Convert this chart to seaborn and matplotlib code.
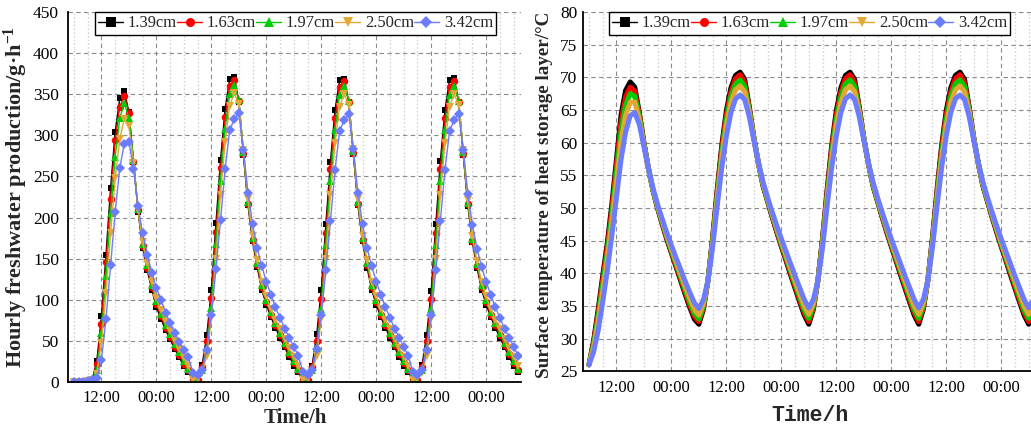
import matplotlib
matplotlib.use("Agg")
import matplotlib.pyplot as plt
import seaborn as sns
import pandas as pd
from matplotlib.lines import Line2D
from matplotlib.ticker import MultipleLocator, FixedLocator, FixedFormatter

sns.set_style("white")
plt.rcParams["font.family"] = ["Liberation Serif", "DejaVu Serif"]
plt.rcParams["mathtext.fontset"] = "custom"
plt.rcParams["mathtext.rm"] = "Liberation Serif"
plt.rcParams["mathtext.bf"] = "Liberation Serif:bold"

# ---------------- data ----------------
hours = list(range(6, 104))
labels = ["1.39cm", "1.63cm", "1.97cm", "2.50cm", "3.42cm"]
xtick_pos = [12, 24, 36, 48, 60, 72, 84, 96]
xtick_labels = ["12:00", "00:00", "12:00", "00:00", "12:00", "00:00", "12:00", "00:00"]

prod_139 = [0, 0, 0, 1, 3, 26, 80, 155, 236, 304, 345, 354, 328, 268, 207, 163, 136, 112, 91, 77, 63, 52, 40, 30, 19, 12,
            2, 3, 21, 57, 112, 193, 270, 332, 368, 371, 341, 276, 215, 171, 140, 112, 94, 79, 66, 54, 42, 31, 20, 12,
            2, 3, 20, 58, 112, 192, 268, 331, 367, 369, 340, 277, 215, 171, 139, 112, 94, 79, 66, 54, 42, 31, 20, 12,
            2, 3, 21, 57, 111, 192, 269, 331, 367, 370, 340, 276, 214, 170, 139, 112, 94, 79, 66, 54, 42, 31, 20, 12]
prod_163 = [0, 0, 0, 1, 2, 22, 71, 146, 223, 294, 335, 348, 327, 268, 209, 166, 139, 115, 95, 80, 66, 55, 43, 33, 22, 14,
            2, 3, 18, 50, 102, 182, 260, 322, 360, 367, 342, 277, 217, 173, 142, 115, 97, 82, 69, 57, 45, 34, 23, 14,
            2, 3, 18, 50, 101, 181, 259, 321, 359, 366, 341, 278, 217, 173, 142, 115, 97, 82, 69, 57, 45, 34, 23, 14,
            2, 3, 18, 50, 101, 181, 259, 321, 359, 366, 341, 277, 216, 172, 141, 115, 97, 82, 69, 57, 45, 34, 23, 14]
prod_197 = [0, 0, 0, 1, 2, 15, 59, 129, 205, 274, 321, 339, 321, 270, 210, 168, 142, 118, 98, 83, 69, 58, 46, 36, 25, 16,
            2, 3, 14, 40, 90, 168, 245, 308, 350, 361, 343, 280, 219, 175, 145, 118, 100, 85, 72, 60, 48, 37, 26, 16,
            2, 3, 14, 41, 89, 167, 244, 307, 349, 360, 342, 281, 219, 175, 145, 118, 100, 85, 72, 60, 48, 37, 26, 16,
            2, 3, 14, 40, 89, 167, 244, 307, 349, 360, 342, 280, 218, 174, 144, 118, 100, 85, 72, 60, 48, 37, 26, 16]
prod_250 = [0, 0, 0, 1, 2, 10, 47, 108, 181, 248, 296, 320, 311, 266, 209, 170, 145, 122, 102, 87, 73, 62, 50, 40, 29, 20,
            3, 4, 11, 32, 78, 150, 228, 292, 336, 351, 338, 282, 222, 178, 148, 122, 104, 89, 76, 64, 52, 41, 30, 20,
            3, 4, 11, 32, 77, 149, 227, 291, 335, 350, 337, 283, 222, 178, 148, 122, 104, 89, 76, 64, 52, 41, 30, 20,
            3, 4, 11, 32, 77, 149, 227, 291, 335, 350, 337, 282, 221, 177, 147, 122, 104, 89, 76, 64, 52, 41, 30, 20]
prod_342 = [0, 0, 0, 1, 2, 5, 27, 77, 142, 207, 260, 290, 292, 259, 214, 181, 155, 133, 114, 100, 84, 72, 60, 49, 39, 30,
            11, 8, 15, 39, 82, 137, 197, 259, 306, 320, 327, 282, 230, 192, 163, 141, 122, 106, 91, 78, 65, 54, 43, 32,
            12, 8, 15, 40, 82, 136, 196, 258, 305, 319, 326, 283, 230, 192, 163, 141, 122, 106, 91, 78, 65, 54, 43, 32,
            12, 8, 15, 39, 81, 136, 196, 258, 305, 319, 326, 282, 229, 191, 162, 140, 122, 106, 91, 78, 65, 54, 43, 32]

temp_139 = [26.0, 29.6, 34.4, 39.6, 44.6, 50.6, 57.4, 64.2, 68.0, 69.3, 68.5, 64.6, 60.0, 56.0, 52.6, 49.9, 47.5, 45.2, 43.1, 41.0, 38.9, 36.8, 34.8, 33.0, 32.2,
            34.5, 39.0, 45.5, 52.8, 59.6, 64.9, 68.4, 70.3, 70.8, 69.7, 65.5, 60.8, 56.8, 53.4, 51.0, 48.6, 46.3, 44.1, 42.0, 39.8, 37.7, 35.6, 33.6, 32.2,
            34.5, 39.0, 45.4, 52.8, 59.6, 64.9, 68.4, 70.3, 70.8, 69.7, 65.5, 60.8, 56.8, 53.4, 51.0, 48.6, 46.3, 44.1, 42.0, 39.8, 37.7, 35.6, 33.6, 32.2,
            34.5, 39.0, 45.5, 52.8, 59.6, 64.9, 68.4, 70.3, 70.8, 69.7, 65.5, 60.8, 56.8, 53.4, 51.0, 48.6, 46.3, 44.1, 42.0, 39.8, 37.7, 35.6, 33.6, 32.2,
            34.5]
temp_163 = [26.0, 29.3, 33.9, 39.0, 44.0, 49.9, 56.5, 63.2, 67.0, 68.5, 67.9, 64.3, 59.9, 56.0, 52.7, 50.0, 47.6, 45.4, 43.3, 41.2, 39.2, 37.1, 35.1, 33.4, 32.6,
            34.7, 39.0, 45.3, 52.4, 59.1, 64.3, 67.8, 69.8, 70.4, 69.2, 65.3, 60.7, 56.8, 53.5, 51.1, 48.7, 46.5, 44.3, 42.2, 40.1, 38.0, 35.9, 34.0, 32.6,
            34.7, 39.0, 45.3, 52.4, 59.1, 64.3, 67.8, 69.8, 70.4, 69.2, 65.3, 60.7, 56.8, 53.5, 51.1, 48.7, 46.5, 44.3, 42.2, 40.1, 38.0, 35.9, 34.0, 32.6,
            34.7, 39.0, 45.3, 52.4, 59.1, 64.3, 67.8, 69.8, 70.4, 69.2, 65.3, 60.7, 56.8, 53.5, 51.1, 48.7, 46.5, 44.3, 42.2, 40.1, 38.0, 35.9, 34.0, 32.6,
            34.7]
temp_197 = [26.0, 29.0, 33.3, 38.2, 43.1, 48.9, 55.4, 61.8, 65.8, 67.5, 67.1, 64.0, 59.8, 56.0, 52.7, 50.1, 47.8, 45.6, 43.5, 41.5, 39.5, 37.5, 35.6, 33.9, 33.0,
            35.0, 39.0, 45.0, 51.9, 58.4, 63.5, 67.1, 69.0, 69.6, 68.6, 65.0, 60.7, 56.9, 53.6, 51.2, 48.9, 46.7, 44.5, 42.5, 40.4, 38.4, 36.4, 34.4, 33.1,
            35.0, 39.0, 45.0, 51.9, 58.4, 63.5, 67.1, 69.0, 69.6, 68.6, 65.0, 60.7, 56.9, 53.6, 51.2, 48.9, 46.7, 44.5, 42.5, 40.4, 38.4, 36.4, 34.4, 33.1,
            35.0, 39.0, 45.0, 51.9, 58.4, 63.5, 67.1, 69.0, 69.6, 68.6, 65.0, 60.7, 56.9, 53.6, 51.2, 48.9, 46.7, 44.5, 42.5, 40.4, 38.4, 36.4, 34.4, 33.1,
            35.0]
temp_250 = [26.0, 28.6, 32.5, 37.2, 42.1, 47.7, 53.9, 60.1, 64.2, 66.2, 66.2, 63.5, 59.6, 56.0, 52.8, 50.3, 48.0, 45.8, 43.8, 41.8, 39.9, 38.0, 36.2, 34.5, 33.6,
            35.4, 38.9, 44.6, 51.3, 57.6, 62.6, 66.1, 68.1, 68.7, 67.8, 64.6, 60.6, 56.9, 53.8, 51.4, 49.1, 46.9, 44.8, 42.8, 40.8, 38.8, 36.9, 35.0, 33.7,
            35.4, 38.9, 44.6, 51.3, 57.6, 62.6, 66.1, 68.1, 68.7, 67.8, 64.6, 60.6, 56.9, 53.8, 51.4, 49.1, 46.9, 44.8, 42.8, 40.8, 38.8, 36.9, 35.0, 33.7,
            35.4, 38.9, 44.6, 51.3, 57.6, 62.6, 66.1, 68.1, 68.7, 67.8, 64.6, 60.6, 56.9, 53.8, 51.4, 49.1, 46.9, 44.8, 42.8, 40.8, 38.8, 36.9, 35.0, 33.7,
            35.4]
temp_342 = [26.0, 27.9, 31.2, 35.6, 40.4, 45.8, 51.6, 57.4, 61.6, 64.1, 64.6, 62.8, 59.4, 56.0, 53.0, 50.5, 48.3, 46.2, 44.3, 42.4, 40.6, 38.8, 37.1, 35.5, 34.6,
            36.0, 38.9, 44.0, 50.3, 56.2, 61.0, 64.6, 66.7, 67.3, 66.6, 64.0, 60.4, 57.0, 54.0, 51.6, 49.4, 47.3, 45.3, 43.4, 41.5, 39.6, 37.8, 36.0, 34.7,
            36.0, 38.9, 44.0, 50.3, 56.2, 61.0, 64.6, 66.7, 67.3, 66.6, 64.0, 60.4, 57.0, 54.0, 51.6, 49.4, 47.3, 45.3, 43.4, 41.5, 39.6, 37.8, 36.0, 34.7,
            36.0, 38.9, 44.0, 50.3, 56.2, 61.0, 64.6, 66.7, 67.3, 66.6, 64.0, 60.4, 57.0, 54.0, 51.6, 49.4, 47.3, 45.3, 43.4, 41.5, 39.6, 37.8, 36.0, 34.7,
            36.0]

prod_series = [prod_139, prod_163, prod_197, prod_250, prod_342]
temp_series = [temp_139, temp_163, temp_197, temp_250, temp_342]

# ---------------- style ----------------
colors = ["#000000", "#FF0000", "#00CC00", "#E3A735", "#6B7CFF"]
markers = ["s", "o", "^", "v", "D"]
msizes = [4.8, 5.4, 5.6, 5.6, 5.6]

fig = plt.figure(figsize=(10.31, 4.34), dpi=100)
ax1 = fig.add_axes([68 / 1031, (434 - 382) / 434, 453 / 1031, 370 / 434])
ax2 = fig.add_axes([583 / 1031, (434 - 371.3) / 434, 453 / 1031, 359.3 / 434])

for name, vals, c, m, ms in zip(labels, prod_series, colors, markers, msizes):
    df = pd.DataFrame({"t": hours, "v": vals})
    sns.lineplot(data=df, x="t", y="v", ax=ax1, color=c, marker=m, markersize=ms,
                 markeredgewidth=0, linewidth=1.0, legend=False, errorbar=None)

for name, vals, c in zip(labels, temp_series, colors):
    df = pd.DataFrame({"t": hours, "v": vals})
    sns.lineplot(data=df, x="t", y="v", ax=ax2, color=c, linewidth=3.6,
                 legend=False, errorbar=None, solid_capstyle="round")


def style_axes(ax, ylim, ymaj, ymin_, ypad):
    ax.set_xlim(4.7, 103.6)
    ax.set_ylim(*ylim)
    ax.xaxis.set_major_locator(FixedLocator(xtick_pos))
    ax.xaxis.set_major_formatter(FixedFormatter(xtick_labels))
    ax.xaxis.set_minor_locator(MultipleLocator(3))
    ax.yaxis.set_major_locator(MultipleLocator(ymaj))
    ax.yaxis.set_minor_locator(MultipleLocator(ymin_))
    for s in ["top", "right"]:
        ax.spines[s].set_visible(False)
    for s in ["left", "bottom"]:
        ax.spines[s].set_color("black")
        ax.spines[s].set_linewidth(1.3)
    ax.tick_params(which="major", direction="in", length=4.5, width=1.1, colors="black",
                   labelsize=12.5)
    ax.tick_params(axis="y", which="major", pad=ypad)
    ax.tick_params(which="minor", direction="in", length=2.5, width=1.0, colors="black")
    ax.tick_params(axis="x", which="major", pad=6, labelsize=12)
    ax.grid(True, which="major", axis="both", color="#8a8a8a", linestyle=(0, (4, 3)), linewidth=0.8)
    ax.grid(True, which="minor", axis="x", color="#cfcfcf", linestyle=(0, (1.2, 1.8)), linewidth=0.9)
    ax.set_axisbelow(True)
    ax.set_facecolor("white")


style_axes(ax1, (0, 450), 50, 25, 6.5)
style_axes(ax2, (25, 80), 5, 2.5, 4)

ax1.set_xlabel("Time/h", fontsize=15, fontweight="bold")
ax1.xaxis.set_label_coords(0.501, -0.07)
ax1.set_ylabel(r"Hourly freshwater production/g·h$\mathbf{^{-1}}$", fontsize=16, fontweight="bold")
ax1.yaxis.set_label_coords(-0.083, 0.5)

ax2.set_xlabel("Time/h", fontsize=15.5, fontweight="bold", family=["Liberation Mono", "DejaVu Sans Mono"])
ax2.xaxis.set_label_coords(0.501, -0.093)
ax2.set_ylabel("Surface temperature of heat storage layer/°C", fontsize=13.8, fontweight="bold")
ax2.yaxis.set_label_coords(-0.066, 0.49)

handles = [Line2D([], [], color=c, marker=m, markersize=6.5, markeredgewidth=0, linewidth=1.0)
           for c, m in zip(colors, markers)]
for ax, x0 in [(ax1, (95 - 68) / 453), (ax2, (609 - 583) / 453)]:
    leg = ax.legend(handles, labels, ncol=5, loc="upper left", bbox_to_anchor=(x0, 1.0),
                    frameon=True, fancybox=False, edgecolor="black", framealpha=1,
                    handlelength=1.5, handletextpad=0.3, columnspacing=0.0,
                    borderpad=0.2, borderaxespad=0, fontsize=11.9)
    leg.get_frame().set_linewidth(1.0)

fig.savefig("out.png", dpi=100)
